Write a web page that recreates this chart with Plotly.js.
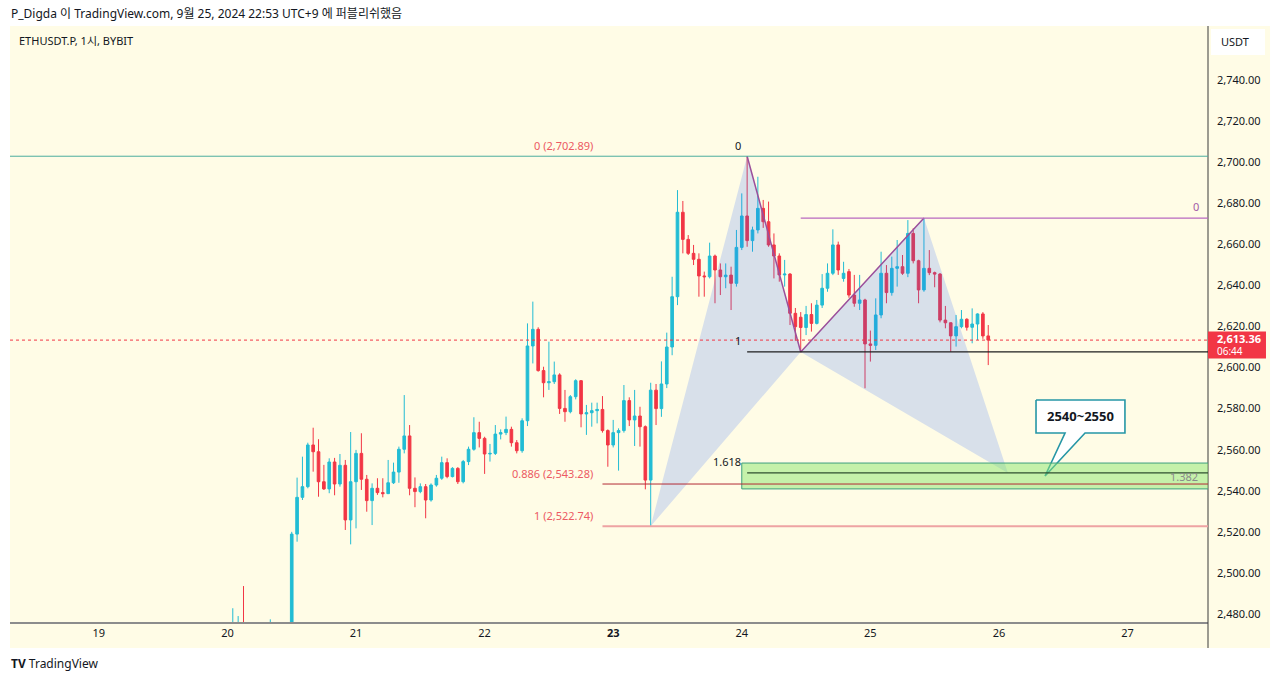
<!DOCTYPE html>
<html>
<head>
<meta charset="utf-8">
<script src="https://cdn.plot.ly/plotly-3.0.1.min.js"></script>
<style>html,body{margin:0;padding:0;background:#fff;}#chart{width:1280px;height:681px;}</style>
</head>
<body>
<div id="chart"></div>
<script>
// ---- hourly candles, ETHUSDT.P 1h, starting 2024-09-20 00:00 ----
const firstCandle = '2024-09-20 00:00';
const openP = [2455,2462,2470,2472,2458,2455,2460,2453,2457,2462,2458,2461,
 2463,2518.9,2536.8,2542.0,2562.3,2559.0,2544.4,2540.9,2554.0,2543.3,2552.4,2525.8,2544.4,2558.2,2545.6,2535.2,2541.2,2539.1,2538.6,2543.9,
 2549.1,2560.2,2566.7,2541.2,2539.6,2542.0,2535.5,2542.8,2546.1,2553.7,2546.9,2550.9,2544.4,2554.2,2560.2,2568.3,2565.5,2557.9,2558.2,2567.6,
 2568.3,2569.9,2563.4,2559.5,2574.1,2610.5,2618.6,2598.5,2592.6,2593.1,2596.4,2580.1,2578.5,2585.8,2593.6,2577.4,2578.0,2579.0,2579.6,2569.3,
 2562.3,2568.3,2569.3,2583.9,2574.5,2576.4,2571.2,2545.2,2589.0,2580.0,2592.0,2610.0,2634.5,2675.6,2662.4,2655.6,2652.7,2644.6,2644.2,2654.3,
 2647.5,2644.2,2645.0,2641.0,2658.5,2673.8,2661.8,2667.0,2677.5,2671.0,2659.7,2654.3,2645.1,2645.5,2626.4,2624.5,2619.5,2625.8,2621.5,2630.4,
 2638.6,2645.9,2659.7,2643.4,2646.7,2635.3,2631.3,2632.9,2611.5,2610.8,2625.6,2645.9,2636.5,2648.3,2649.1,2645.9,2665.3,2652.0,2637.8,2648.3,
 2646.2,2645.5,2623.1,2621.8,2615.4,2619.9,2623.5,2619.6,2621.2,2626.1,2615.4];
const highP = [2468,2482.8,2479.0,2493.6,2466,2462,2465,2460,2477.4,2470,2466,2468,
 2520.0,2546.4,2556.6,2563.4,2570.7,2565.1,2552.6,2555.8,2556.0,2557.9,2555.0,2568.6,2559.9,2568.0,2547.7,2543.6,2546.1,2546.1,2555.0,2553.7,
 2561.5,2586.6,2572.0,2546.5,2543.6,2543.3,2543.6,2547.7,2556.6,2555.8,2551.5,2551.5,2555.0,2561.5,2575.8,2573.6,2566.3,2562.8,2572.0,2569.9,
 2576.1,2571.2,2564.7,2575.3,2621.5,2632.1,2619.6,2600.4,2612.6,2602.9,2597.2,2589.1,2586.6,2594.3,2593.9,2581.8,2582.9,2582.9,2586.1,2569.9,
 2574.5,2570.4,2591.5,2585.5,2589.1,2580.9,2571.8,2592.6,2592.0,2603.0,2617.0,2644.2,2686.4,2681.1,2664.5,2659.7,2655.6,2646.7,2660.8,2655.0,
 2650.7,2650.7,2649.1,2667.0,2684.8,2702.89,2668.6,2692.9,2681.6,2680.8,2665.3,2655.6,2652.4,2646.0,2629.0,2627.0,2630.0,2631.3,2632.9,2645.5,
 2650.7,2667.3,2661.3,2651.5,2648.0,2645.1,2645.1,2633.5,2618.0,2633.7,2656.4,2649.9,2654.0,2662.1,2654.8,2671.8,2667.8,2652.5,2672.8,2657.2,
 2646.7,2646.0,2630.0,2622.0,2625.6,2628.0,2624.0,2628.8,2626.4,2627.0,2620.7];
const lowP = [2448,2455,2460,2455,2450,2448,2450,2445,2452,2455,2450,2455,
 2458,2515.2,2535.5,2541.2,2549.3,2537.1,2540.4,2538.8,2537.8,2542.0,2520.9,2513.9,2521.7,2540.4,2529.8,2523.3,2538.0,2536.8,2538.4,2543.3,
 2543.9,2558.2,2537.8,2532.0,2538.8,2526.6,2534.7,2542.0,2545.3,2546.1,2546.5,2543.3,2543.6,2552.5,2559.5,2561.1,2548.2,2554.2,2557.4,2565.0,
 2567.1,2561.5,2558.2,2558.5,2571.5,2602.0,2598.0,2585.5,2589.1,2592.0,2577.4,2573.6,2577.7,2584.5,2570.9,2567.2,2571.2,2572.8,2568.3,2551.7,
 2561.1,2549.8,2568.3,2571.5,2561.8,2561.5,2540.7,2522.74,2572.0,2576.0,2590.0,2606.0,2630.4,2655.6,2654.8,2649.9,2634.5,2634.5,2643.4,2631.3,
 2635.3,2638.6,2628.0,2639.4,2657.2,2658.8,2656.4,2665.3,2668.0,2658.8,2643.4,2641.8,2639.4,2620.7,2613.0,2607.6,2615.8,2617.5,2621.0,2629.0,
 2636.9,2645.0,2645.1,2641.8,2634.0,2629.6,2628.0,2589.9,2602.9,2608.5,2624.0,2631.3,2635.0,2639.4,2645.1,2644.0,2650.7,2631.3,2636.9,2645.0,
 2639.1,2622.0,2619.1,2607.7,2610.2,2619.1,2618.0,2611.8,2613.4,2614.0,2601.2];
const closeP = [2462,2470,2472,2458,2455,2460,2453,2457,2462,2458,2461,2463,
 2518.9,2536.8,2542.0,2562.3,2559.0,2544.4,2540.9,2554.0,2543.3,2552.4,2525.8,2544.4,2558.2,2545.6,2535.2,2541.2,2539.1,2538.6,2543.9,2549.1,
 2560.2,2566.7,2541.2,2539.6,2542.0,2535.5,2542.8,2546.1,2553.7,2546.9,2550.9,2544.4,2554.2,2560.2,2568.3,2565.5,2557.9,2558.2,2567.6,2568.3,
 2569.9,2563.4,2559.5,2574.1,2610.5,2618.6,2598.5,2592.6,2593.1,2596.4,2580.1,2578.5,2585.8,2593.6,2577.4,2578.0,2579.0,2579.6,2569.3,2562.3,
 2568.3,2569.3,2583.9,2574.5,2576.4,2571.2,2545.2,2589.0,2580.0,2592.0,2610.0,2634.5,2675.6,2662.4,2655.6,2652.7,2644.6,2644.2,2654.3,2647.5,
 2644.2,2645.0,2641.0,2658.5,2673.8,2661.8,2667.0,2677.5,2671.0,2659.7,2654.3,2645.1,2645.5,2626.4,2619.9,2619.5,2625.8,2621.5,2630.4,2638.6,
 2645.9,2659.7,2647.5,2645.9,2635.3,2631.3,2632.9,2611.5,2610.8,2625.6,2645.9,2636.5,2648.3,2649.1,2645.9,2665.3,2652.0,2637.8,2648.3,2646.2,
 2645.5,2623.1,2621.8,2615.4,2619.9,2623.5,2619.6,2621.2,2626.1,2615.4,2613.36];

// ---- axis labels ----
const dayTicks = ['2024-09-19','2024-09-20','2024-09-21','2024-09-22','2024-09-23','2024-09-24','2024-09-25','2024-09-26','2024-09-27'];
const dayLabels = ['19','20','21','22','<b>23</b>','24','25','26','27'];
const priceTicks = [2480,2500,2520,2540,2560,2580,2600,2620,2640,2660,2680,2700,2720,2740];

// ---- drawings (XABCD pattern, fib levels, zone) ----
const patternTimes = ['2024-09-23 07:00','2024-09-24 01:00','2024-09-24 11:00','2024-09-25 10:00','2024-09-26 01:40'];
const patternPrices = [2522.74, 2702.89, 2607.6, 2672.8, 2548.6];
const fibLabels = ['0 (2,702.89)','0.886 (2,543.28)','1 (2,522.74)'];
const fibPrices = [2702.89, 2543.28, 2522.74];
const extLabels = ['0','1','1.618'];
const extPrices = [2702.89, 2607.6, 2548.7];
const lastPrice = 2613.36;
const zoneLow = 2540.9, zoneHigh = 2553.5;
const calloutTimes = ['2024-09-26 06:55','2024-09-26 23:31','2024-09-26 23:31','2024-09-26 16:04','2024-09-26 08:36','2024-09-26 12:20','2024-09-26 06:55','2024-09-26 06:55'];
const calloutPrices = [2584.2,2584.2,2568.1,2568.1,2547.2,2568.1,2568.1,2584.2];

const times = openP.map((_, i) => {
  const d = new Date(Date.UTC(2024, 8, 20, 0) + i * 3600e3);
  return d.toISOString().slice(0, 16).replace('T', ' ');
});

const FONT = 'Noto Sans, Noto Sans CJK KR, sans-serif';
const TXT = '#131722';
const X0 = '2024-09-18 07:25', X1 = '2024-09-27 15:01', XR = '2024-09-28 06:00';
const fibStart = '2024-09-22 22:00', extStart = '2024-09-24 00:00';

const traces = [
  {type:'candlestick', x:times, open:openP, high:highP, low:lowP, close:closeP,
   increasing:{line:{color:'#22bcd4', width:1}, fillcolor:'#22bcd4'},
   decreasing:{line:{color:'#f23645', width:1}, fillcolor:'#f23645'},
   whiskerwidth:0, hoverinfo:'none', showlegend:false},
  {type:'scatter', mode:'lines',
   x:[patternTimes[0],patternTimes[1],patternTimes[2],patternTimes[0],null,patternTimes[2],patternTimes[3],patternTimes[4],patternTimes[2]],
   y:[patternPrices[0],patternPrices[1],patternPrices[2],patternPrices[0],null,patternPrices[2],patternPrices[3],patternPrices[4],patternPrices[2]],
   fill:'toself', fillcolor:'rgba(41,98,255,0.18)', line:{width:0}, hoverinfo:'none', showlegend:false},
  {type:'scatter', mode:'lines', x:patternTimes.slice(1,4), y:patternPrices.slice(1,4),
   line:{color:'#9b4f9b', width:1.5}, hoverinfo:'none', showlegend:false},
  {type:'scatter', mode:'lines', x:calloutTimes, y:calloutPrices, fill:'toself', fillcolor:'#ffffff',
   line:{color:'#2696a6', width:1.6}, hoverinfo:'none', showlegend:false}
];

const shapes = [
  {type:'rect', xref:'paper', yref:'paper', x0:0, x1:1.0518, y0:-0.0436, y1:1, fillcolor:'#fffce6', line:{width:0}, layer:'below'},
  {type:'line', xref:'paper', yref:'paper', x0:1, x1:1, y0:-0.0436, y1:1, line:{color:'#3b3b3b', width:1}},
  {type:'rect', xref:'paper', yref:'paper', x0:1.0025, x1:1.0476, y0:0.9513, y1:0.995, fillcolor:'#ffffff', line:{width:0}},
  {type:'line', xref:'paper', yref:'y', x0:0, x1:1, y0:fibPrices[0], y1:fibPrices[0], line:{color:'#4cae9e', width:1}},
  {type:'rect', xref:'x', yref:'y', x0:extStart, x1:XR, y0:zoneLow, y1:zoneHigh, fillcolor:'rgba(140,230,110,0.5)', line:{color:'#3e9f7f', width:1}},
  {type:'line', xref:'x', yref:'y', x0:fibStart, x1:XR, y0:fibPrices[1], y1:fibPrices[1], line:{color:'#b22a34', width:1}},
  {type:'line', xref:'x', yref:'y', x0:fibStart, x1:XR, y0:fibPrices[2], y1:fibPrices[2], line:{color:'#eea3a3', width:2}},
  {type:'line', xref:'x', yref:'y', x0:patternTimes[1], x1:XR, y0:extPrices[1], y1:extPrices[1], line:{color:'#1e1e1e', width:1.2}},
  {type:'line', xref:'x', yref:'y', x0:patternTimes[1], x1:XR, y0:extPrices[2], y1:extPrices[2], line:{color:'#2f4f2f', width:1.2}},
  {type:'line', xref:'x', yref:'y', x0:patternTimes[2], x1:XR, y0:patternPrices[3], y1:patternPrices[3], line:{color:'#b868bf', width:1.2}},
  {type:'line', xref:'paper', yref:'y', x0:0, x1:1, y0:lastPrice, y1:lastPrice, line:{color:'#f23645', width:1, dash:'dot'}},
  {type:'rect', xref:'paper', yref:'y', x0:1, x1:1.0484, y0:2604.4, y1:2617.6, fillcolor:'#f23645', line:{width:0}}
];

const annotations = [
  {xref:'paper', yref:'paper', x:-0.0008, y:1.0218, xanchor:'left', yanchor:'middle', showarrow:false,
   text:'P_Digda 이 TradingView.com, 9월 25, 2024 22:53 UTC+9 에 퍼블리쉬했음', font:{family:FONT, size:12, color:TXT}},
  {xref:'paper', yref:'paper', x:0.0058, y:0.9765, xanchor:'left', yanchor:'middle', showarrow:false,
   text:'ETHUSDT.P, 1시, BYBIT', font:{family:FONT, size:11, color:TXT}},
  {xref:'paper', yref:'paper', x:1.0092, y:0.9732, xanchor:'left', yanchor:'middle', showarrow:false,
   text:'USDT', font:{family:FONT, size:11, color:TXT}},
  {xref:'paper', yref:'paper', x:-0.0008, y:-0.0688, xanchor:'left', yanchor:'middle', showarrow:false,
   text:'<b>TV</b> TradingView', font:{family:FONT, size:12, color:TXT}},
  {xref:'paper', yref:'y', x:1.0058, y:2614.0, xanchor:'left', yanchor:'middle', showarrow:false,
   text:'<b>2,613.36</b>', font:{family:FONT, size:11, color:'#ffffff'}},
  {xref:'paper', yref:'y', x:1.0058, y:2608.2, xanchor:'left', yanchor:'middle', showarrow:false,
   text:'06:44', font:{family:FONT, size:10, color:'#ffffff'}},
  {x:'2024-09-26 15:12', y:2576.2, xanchor:'center', yanchor:'middle', showarrow:false,
   text:'<b>2540~2550</b>', font:{family:FONT, size:13, color:TXT}},
  {x:'2024-09-27 13:35', y:2547.0, xanchor:'right', yanchor:'middle', showarrow:false,
   text:'1.382', font:{family:FONT, size:11, color:'#8a8a8a'}},
  {x:'2024-09-27 13:40', y:patternPrices[3], xanchor:'right', yanchor:'middle', yshift:12, showarrow:false,
   text:'0', font:{family:FONT, size:11, color:'#a35aa8'}}
];
fibLabels.forEach((t, i) => annotations.push({x:fibStart, y:fibPrices[i], xanchor:'right', yanchor:'middle',
  xshift:-7, yshift:11, showarrow:false, text:t, font:{family:FONT, size:11, color:'#ec5a63'}}));
extLabels.forEach((t, i) => annotations.push({x:extStart, y:extPrices[i], xanchor:'right', yanchor:'middle',
  xshift:1, yshift:11, showarrow:false, text:t, font:{family:FONT, size:11, color:TXT}}));

const layout = {
  width:1280, height:681,
  margin:{l:10, r:72, t:26, b:59},
  paper_bgcolor:'#ffffff', plot_bgcolor:'#fffce6',
  showlegend:false, dragmode:false,
  xaxis:{type:'date', range:[X0, X1], tickvals:dayTicks, ticktext:dayLabels, showgrid:false, zeroline:false,
    showline:true, linecolor:'#8c8c8c', linewidth:2, ticks:'', rangeslider:{visible:false},
    tickfont:{family:FONT, size:11, color:TXT}, fixedrange:true},
  yaxis:{side:'right', range:[2476.1, 2766.3], tickvals:priceTicks, tickformat:',.2f', showgrid:false, zeroline:false,
    showline:false, ticks:'', ticklabelstandoff:8, tickfont:{family:FONT, size:11, color:TXT}, fixedrange:true},
  shapes:shapes, annotations:annotations
};

Plotly.newPlot('chart', traces, layout, {staticPlot:true, displayModeBar:false});
</script>
</body>
</html>
